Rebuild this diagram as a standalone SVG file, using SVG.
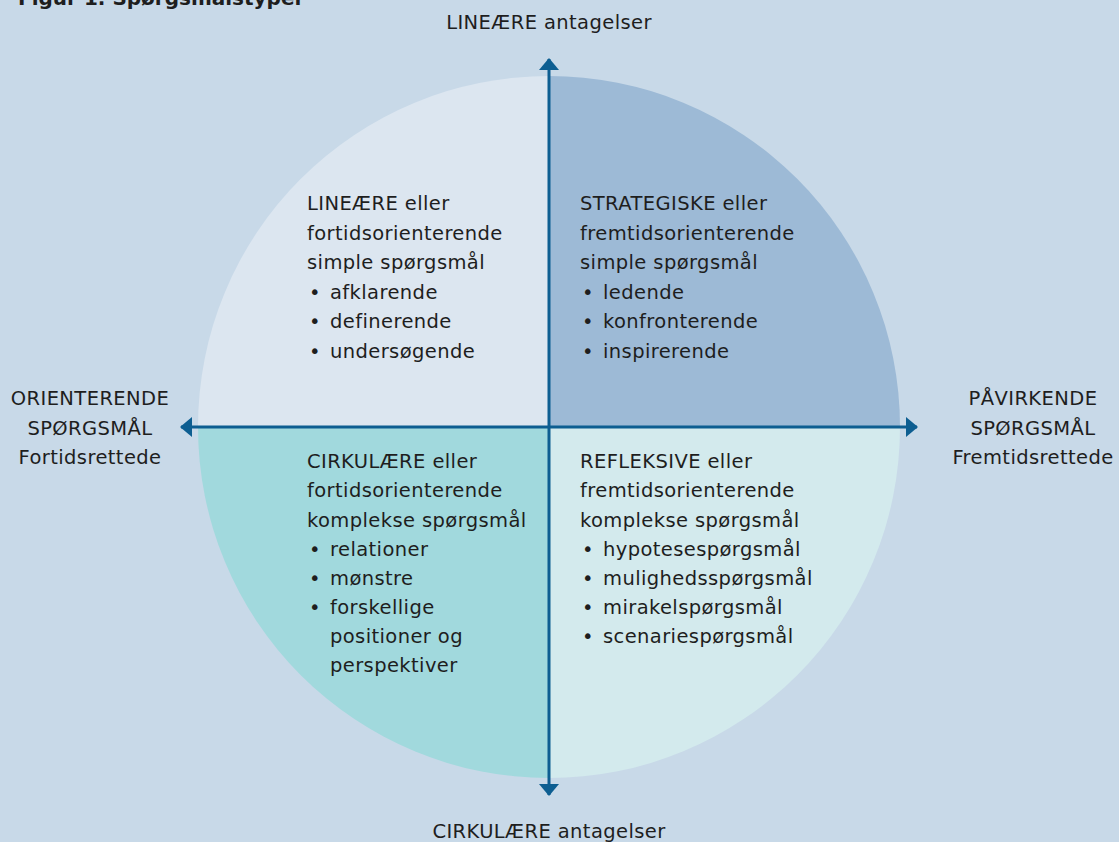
<svg xmlns="http://www.w3.org/2000/svg" width="1119" height="842" viewBox="0 0 1119 842">
<style>
text{font-family:"DejaVu Sans","Liberation Sans",sans-serif;font-size:19.5px;letter-spacing:0.4px;fill:#1e1e1e}
.t{font-weight:bold;font-size:20px;letter-spacing:0}
.c{text-anchor:middle}
.ax{stroke:#0d5e91;stroke-width:3;fill:none}
</style>
<defs>
<marker id="ah" viewBox="0 0 12 20" refX="11" refY="10" markerWidth="4" markerHeight="6.67" orient="auto" markerUnits="strokeWidth">
<path d="M0,0 L12,10 L0,20 z" fill="#0d5e91"/>
</marker>
</defs>
<rect width="1119" height="842" fill="#c8d9e8"/>
<text class="t" x="18" y="5">Figur 1. Spørgsmålstyper</text>
<g id="q-tl"><path d="M549,427 L198,427 A351,351 0 0 1 549,76 Z" fill="#dce6f0"/>
<text x="307" y="210">LINEÆRE eller</text><text x="307" y="240">fortidsorienterende</text><text x="307" y="269">simple spørgsmål</text>
<text x="309" y="299">•<tspan x="330">afklarende</tspan></text><text x="309" y="328">•<tspan x="330">definerende</tspan></text><text x="309" y="358">•<tspan x="330">undersøgende</tspan></text></g>
<g id="q-tr"><path d="M549,427 L549,76 A351,351 0 0 1 900,427 Z" fill="#9dbad6"/>
<text x="580" y="210">STRATEGISKE eller</text><text x="580" y="240">fremtidsorienterende</text><text x="580" y="269">simple spørgsmål</text>
<text x="582" y="299">•<tspan x="603">ledende</tspan></text><text x="582" y="328">•<tspan x="603">konfronterende</tspan></text><text x="582" y="358">•<tspan x="603">inspirerende</tspan></text></g>
<g id="q-bl"><path d="M549,427 L549,778 A351,351 0 0 1 198,427 Z" fill="#a1d9dd"/>
<text x="307" y="468">CIRKULÆRE eller</text><text x="307" y="497">fortidsorienterende</text><text x="307" y="527">komplekse spørgsmål</text>
<text x="309" y="556">•<tspan x="330">relationer</tspan></text><text x="309" y="585">•<tspan x="330">mønstre</tspan></text><text x="309" y="614">•<tspan x="330">forskellige</tspan></text><text x="330" y="643">positioner og</text><text x="330" y="672">perspektiver</text></g>
<g id="q-br"><path d="M549,427 L900,427 A351,351 0 0 1 549,778 Z" fill="#d3eaed"/>
<text x="580" y="468">REFLEKSIVE eller</text><text x="580" y="497">fremtidsorienterende</text><text x="580" y="527">komplekse spørgsmål</text>
<text x="582" y="556">•<tspan x="603">hypotesespørgsmål</tspan></text><text x="582" y="585">•<tspan x="603">mulighedsspørgsmål</tspan></text><text x="582" y="614">•<tspan x="603">mirakelspørgsmål</tspan></text><text x="582" y="643">•<tspan x="603">scenariespørgsmål</tspan></text></g>
<g id="connectors">
<line class="ax" x1="549" y1="427" x2="549" y2="59" marker-end="url(#ah)"/>
<line class="ax" x1="549" y1="427" x2="549" y2="795" marker-end="url(#ah)"/>
<line class="ax" x1="549" y1="427" x2="181" y2="427" marker-end="url(#ah)"/>
<line class="ax" x1="549" y1="427" x2="917" y2="427" marker-end="url(#ah)"/>
</g>
<g id="lbl-top"><text class="c" x="549" y="29">LINEÆRE antagelser</text></g>
<g id="lbl-bottom"><text class="c" x="549" y="838">CIRKULÆRE antagelser</text></g>
<g id="lbl-left"><text class="c" x="90" y="405">ORIENTERENDE</text><text class="c" x="90" y="435">SPØRGSMÅL</text><text class="c" x="90" y="464">Fortidsrettede</text></g>
<g id="lbl-right"><text class="c" x="1033" y="405">PÅVIRKENDE</text><text class="c" x="1033" y="435">SPØRGSMÅL</text><text class="c" x="1033" y="464">Fremtidsrettede</text></g>
</svg>
